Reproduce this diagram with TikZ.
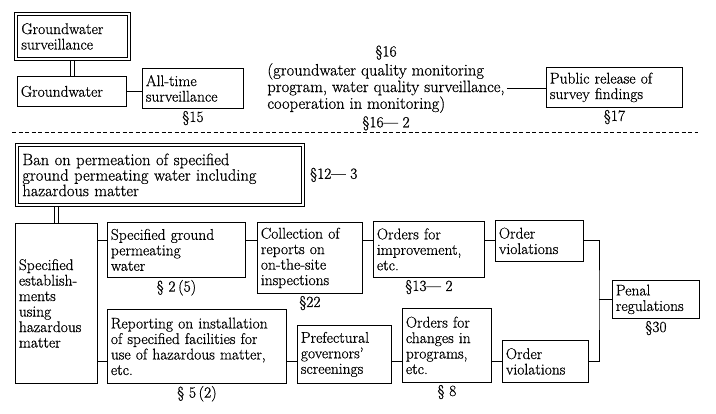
\documentclass[tikz,border=0pt]{standalone}
\usepackage{fontspec}
\setmainfont{Latin Modern Roman}[FakeBold=0.6]
\usepackage{tikz}
\usetikzlibrary{positioning}
\newcommand{\fs}{\fontsize{15.5pt}{15.5pt}\selectfont}
\newcommand{\fb}{\fontsize{16.5pt}{15.5pt}\selectfont}
\tikzstyle{box} = [draw, line width=0.8pt, anchor=north west, align=left, inner xsep=3.5pt, inner ysep=1pt, font=\fs]
\tikzstyle{dbox} = [box, inner xsep=7pt]
\tikzstyle{link} = [draw, line width=0.8pt]
\tikzstyle{sec} = [inner sep=1pt, font=\fs]
\tikzstyle{sepline} = [draw, line width=0.7pt, dash pattern=on 4pt off 2.5pt]

\begin{document}
\begin{tikzpicture}[x=1pt,y=-1pt]
  \useasboundingbox (0,0) rectangle (716,413);

  \node [dbox, text width=102pt, minimum height=48pt] (gws) at (14,12) {Groundwater\\surveillance};
  \draw [link] ([xshift=3.5pt,yshift=-3.5pt]gws.north west) rectangle ([xshift=-3.5pt,yshift=3.5pt]gws.south east);
  \node [box, text width=102pt, minimum height=30pt] (gw) at (17,76) {Groundwater};
  \node [box, text width=94pt, minimum height=40pt] (allt) at (142,68) {All-time\\surveillance};
  \node [sec, below=1pt of allt] (s15) {\S15};
  \node [align=left, font=\fb, inner sep=2pt] (mon) at (386,88) {(groundwater quality monitoring\\program, water quality surveillance,\\cooperation in monitoring)};
  \node [sec, above=0pt of mon] (s16) {\S16};
  \node [sec, below=0pt of mon] (s162) {\S16--- 2};
  \node [box, text width=129pt, minimum height=40pt] (pub) at (546,67) {Public release of\\survey findings};
  \node [sec, below=1pt of pub] (s17) {\S17};

  \draw [link] ([xshift=-1.8pt]gws.south) -- ([xshift=-1.8pt]gws.south |- gw.north);
  \draw [link] ([xshift=1.8pt]gws.south) -- ([xshift=1.8pt]gws.south |- gw.north);
  \draw [link] (gw.east) -- (gw.east -| allt.west);
  \draw [link] (mon.east) -- (mon.east -| pub.west);

  \draw [sepline] (12,132) -- (698,132);

  \node [dbox, font=\fb, text width=275pt, minimum height=63pt] (ban) at (15,143) {Ban on permeation of specified\\ground permeating water including\\hazardous matter};
  \draw [link] ([xshift=3.5pt,yshift=-3.5pt]ban.north west) rectangle ([xshift=-3.5pt,yshift=3.5pt]ban.south east);
  \node [sec, right=4pt of ban] (s123) {\S12--- 3};
  \node [box, text width=75pt, minimum height=160pt] (est) at (15,223) {Specified\\establish-\\ments\\using\\hazardous\\matter};
  \node [box, text width=131pt, minimum height=55pt] (sgw) at (107,222) {Specified ground\\permeating\\water};
  \node [sec, below=1pt of sgw] (s25) {\S\ 2\,(5)};
  \node [box, text width=98pt, minimum height=71pt] (col) at (257,222) {Collection of\\reports on\\on-the-site\\inspections};
  \node [sec, below=1pt of col] (s22) {\S22};
  \node [box, text width=104pt, minimum height=56pt] (imp) at (373,221) {Orders for\\improvement,\\etc.};
  \node [sec, below=1pt of imp] (s132) {\S13--- 2};
  \node [box, text width=81pt, minimum height=41pt] (ov1) at (495,220) {Order\\violations};
  \node [box, text width=80pt, minimum height=38pt] (pen) at (612,280) {Penal\\regulations};
  \node [sec, below=1pt of pen] (s30) {\S30};
  \node [box, text width=172pt, minimum height=74pt] (rep) at (107,309) {Reporting on installation\\of specified facilities for\\use of hazardous matter,\\etc.};
  \node [sec, below=1pt of rep] (s52) {\S\ 5\,(2)};
  \node [box, text width=87pt, minimum height=58pt] (pref) at (297,325) {Prefectural\\governors'\\screenings};
  \node [box, text width=82pt, minimum height=74pt] (chg) at (402,308) {Orders for\\changes in\\programs,\\etc.};
  \node [sec, below=1pt of chg] (s8) {\S\ 8};
  \node [box, text width=79pt, minimum height=42pt] (ov2) at (502,340) {Order\\violations};

  \coordinate (r1) at (0,240);
  \coordinate (r2) at (0,361);
  \coordinate (jn) at ([xshift=-13pt]pen.west);

  \draw [link] ([xshift=-1.8pt]est.north |- ban.south) -- ([xshift=-1.8pt]est.north);
  \draw [link] ([xshift=1.8pt]est.north |- ban.south) -- ([xshift=1.8pt]est.north);
  \draw [link] (est.east |- r1) -- (sgw.west |- r1);
  \draw [link] (sgw.east |- r1) -- (col.west |- r1);
  \draw [link] (col.east |- r1) -- (imp.west |- r1);
  \draw [link] (imp.east |- r1) -- (ov1.west |- r1);
  \draw [link] (est.east |- r2) -- (rep.west |- r2);
  \draw [link] (rep.east |- r2) -- (pref.west |- r2);
  \draw [link] (pref.east |- r2) -- (chg.west |- r2);
  \draw [link] (chg.east |- r2) -- (ov2.west |- r2);
  \draw [link] (ov1.east |- r1) -| (jn) |- (ov2.east |- r2);
  \draw [link] (jn) -- (pen.west);
\end{tikzpicture}
\end{document}
